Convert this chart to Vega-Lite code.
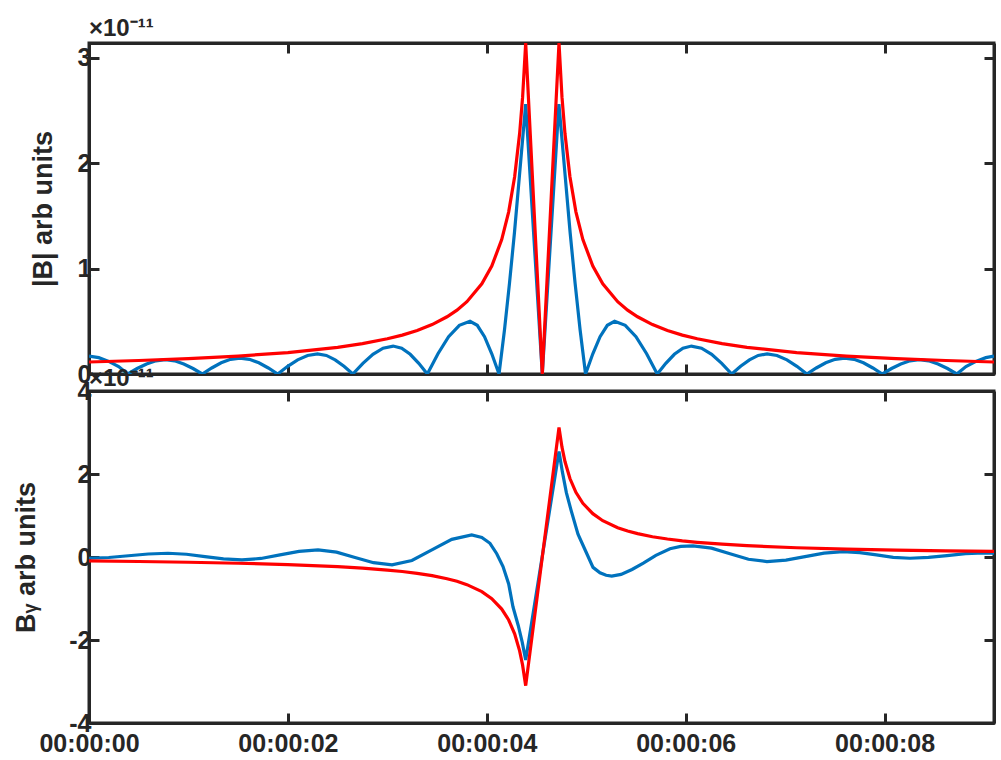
{
  "$schema": "https://vega.github.io/schema/vega-lite/v6.json",
  "padding": {"left": 11, "top": 15, "right": 4, "bottom": 5},
  "background": "white",
  "datasets": {
    "top": [
      {"t":0,"v":0.17,"s":"blue"},{"t":0.098,"v":0.155,"s":"blue"},{"t":0.198,"v":0.12,"s":"blue"},{"t":0.298,"v":0.07,"s":"blue"},{"t":0.39,"v":0,"s":"blue"},
      {"t":0.484,"v":0.052,"s":"blue"},{"t":0.579,"v":0.095,"s":"blue"},{"t":0.673,"v":0.125,"s":"blue"},{"t":0.768,"v":0.135,"s":"blue"},{"t":0.861,"v":0.125,"s":"blue"},{"t":0.953,"v":0.095,"s":"blue"},{"t":1.046,"v":0.052,"s":"blue"},{"t":1.139,"v":0,"s":"blue"},
      {"t":1.234,"v":0.057,"s":"blue"},{"t":1.329,"v":0.106,"s":"blue"},{"t":1.423,"v":0.139,"s":"blue"},{"t":1.518,"v":0.15,"s":"blue"},{"t":1.613,"v":0.139,"s":"blue"},{"t":1.708,"v":0.106,"s":"blue"},{"t":1.803,"v":0.057,"s":"blue"},{"t":1.898,"v":0,"s":"blue"},
      {"t":1.998,"v":0.073,"s":"blue"},{"t":2.098,"v":0.134,"s":"blue"},{"t":2.198,"v":0.176,"s":"blue"},{"t":2.298,"v":0.19,"s":"blue"},{"t":2.387,"v":0.176,"s":"blue"},{"t":2.475,"v":0.134,"s":"blue"},{"t":2.564,"v":0.073,"s":"blue"},{"t":2.653,"v":0,"s":"blue"},
      {"t":2.754,"v":0.101,"s":"blue"},{"t":2.855,"v":0.187,"s":"blue"},{"t":2.957,"v":0.245,"s":"blue"},{"t":3.058,"v":0.265,"s":"blue"},{"t":3.144,"v":0.245,"s":"blue"},{"t":3.23,"v":0.187,"s":"blue"},{"t":3.316,"v":0.101,"s":"blue"},{"t":3.402,"v":0,"s":"blue"},
      {"t":3.509,"v":0.192,"s":"blue"},{"t":3.616,"v":0.354,"s":"blue"},{"t":3.724,"v":0.462,"s":"blue"},{"t":3.831,"v":0.5,"s":"blue"},{"t":3.904,"v":0.462,"s":"blue"},{"t":3.977,"v":0.354,"s":"blue"},{"t":4.05,"v":0.192,"s":"blue"},{"t":4.123,"v":0,"s":"blue"},
      {"t":4.178,"v":0.42,"s":"blue"},{"t":4.228,"v":0.86,"s":"blue"},{"t":4.278,"v":1.34,"s":"blue"},{"t":4.328,"v":1.88,"s":"blue"},{"t":4.391,"v":2.56,"s":"blue"},{"t":4.558,"v":0,"s":"blue"},
      {"t":4.725,"v":2.56,"s":"blue"},{"t":4.788,"v":1.88,"s":"blue"},{"t":4.838,"v":1.34,"s":"blue"},{"t":4.888,"v":0.86,"s":"blue"},{"t":4.938,"v":0.42,"s":"blue"},{"t":4.993,"v":0,"s":"blue"},
      {"t":5.066,"v":0.192,"s":"blue"},{"t":5.139,"v":0.354,"s":"blue"},{"t":5.212,"v":0.462,"s":"blue"},{"t":5.285,"v":0.5,"s":"blue"},{"t":5.392,"v":0.462,"s":"blue"},{"t":5.5,"v":0.354,"s":"blue"},{"t":5.607,"v":0.192,"s":"blue"},{"t":5.714,"v":0,"s":"blue"},
      {"t":5.8,"v":0.101,"s":"blue"},{"t":5.886,"v":0.187,"s":"blue"},{"t":5.972,"v":0.245,"s":"blue"},{"t":6.058,"v":0.265,"s":"blue"},{"t":6.159,"v":0.245,"s":"blue"},{"t":6.261,"v":0.187,"s":"blue"},{"t":6.362,"v":0.101,"s":"blue"},{"t":6.463,"v":0,"s":"blue"},
      {"t":6.552,"v":0.073,"s":"blue"},{"t":6.641,"v":0.134,"s":"blue"},{"t":6.729,"v":0.176,"s":"blue"},{"t":6.818,"v":0.19,"s":"blue"},{"t":6.918,"v":0.176,"s":"blue"},{"t":7.018,"v":0.134,"s":"blue"},{"t":7.118,"v":0.073,"s":"blue"},{"t":7.218,"v":0,"s":"blue"},
      {"t":7.313,"v":0.057,"s":"blue"},{"t":7.408,"v":0.106,"s":"blue"},{"t":7.503,"v":0.139,"s":"blue"},{"t":7.598,"v":0.15,"s":"blue"},{"t":7.693,"v":0.139,"s":"blue"},{"t":7.787,"v":0.106,"s":"blue"},{"t":7.882,"v":0.057,"s":"blue"},{"t":7.977,"v":0,"s":"blue"},
      {"t":8.07,"v":0.052,"s":"blue"},{"t":8.163,"v":0.095,"s":"blue"},{"t":8.255,"v":0.125,"s":"blue"},{"t":8.348,"v":0.135,"s":"blue"},{"t":8.443,"v":0.125,"s":"blue"},{"t":8.537,"v":0.095,"s":"blue"},{"t":8.632,"v":0.052,"s":"blue"},{"t":8.726,"v":0,"s":"blue"},
      {"t":8.818,"v":0.07,"s":"blue"},{"t":8.918,"v":0.12,"s":"blue"},{"t":9.018,"v":0.155,"s":"blue"},{"t":9.1,"v":0.17,"s":"blue"},
      {"t":0,"v":0.114,"s":"red"},{"t":0.5,"v":0.128,"s":"red"},{"t":1,"v":0.146,"s":"red"},{"t":1.5,"v":0.17,"s":"red"},{"t":2,"v":0.203,"s":"red"},{"t":2.5,"v":0.253,"s":"red"},{"t":2.75,"v":0.288,"s":"red"},{"t":3,"v":0.334,"s":"red"},{"t":3.15,"v":0.369,"s":"red"},{"t":3.3,"v":0.413,"s":"red"},{"t":3.45,"v":0.469,"s":"red"},{"t":3.6,"v":0.543,"s":"red"},{"t":3.7,"v":0.606,"s":"red"},{"t":3.8,"v":0.686,"s":"red"},{"t":3.95,"v":0.855,"s":"red"},{"t":4.05,"v":1.024,"s":"red"},{"t":4.15,"v":1.275,"s":"red"},{"t":4.22,"v":1.538,"s":"red"},{"t":4.28,"v":1.871,"s":"red"},{"t":4.33,"v":2.281,"s":"red"},{"t":4.36,"v":2.626,"s":"red"},{"t":4.391,"v":3.14,"s":"red"},
      {"t":4.558,"v":0,"s":"red"},
      {"t":4.726,"v":3.14,"s":"red"},{"t":4.756,"v":2.626,"s":"red"},{"t":4.786,"v":2.281,"s":"red"},{"t":4.836,"v":1.871,"s":"red"},{"t":4.896,"v":1.538,"s":"red"},{"t":4.966,"v":1.275,"s":"red"},{"t":5.066,"v":1.024,"s":"red"},{"t":5.166,"v":0.855,"s":"red"},{"t":5.316,"v":0.686,"s":"red"},{"t":5.416,"v":0.606,"s":"red"},{"t":5.516,"v":0.543,"s":"red"},{"t":5.666,"v":0.469,"s":"red"},{"t":5.816,"v":0.413,"s":"red"},{"t":5.966,"v":0.369,"s":"red"},{"t":6.116,"v":0.334,"s":"red"},{"t":6.366,"v":0.288,"s":"red"},{"t":6.616,"v":0.253,"s":"red"},{"t":7.116,"v":0.203,"s":"red"},{"t":7.616,"v":0.17,"s":"red"},{"t":8.116,"v":0.146,"s":"red"},{"t":8.616,"v":0.128,"s":"red"},{"t":9.1,"v":0.114,"s":"red"}
    ],
    "bottom": [
      {"t":0,"v":-0.03,"s":"blue"},{"t":0.1985,"v":-0.0125,"s":"blue"},{"t":0.397,"v":0.03,"s":"blue"},{"t":0.5955,"v":0.0725,"s":"blue"},{"t":0.794,"v":0.09,"s":"blue"},
      {"t":0.98,"v":0.0666,"s":"blue"},{"t":1.166,"v":0.01,"s":"blue"},{"t":1.352,"v":-0.0466,"s":"blue"},{"t":1.538,"v":-0.07,"s":"blue"},
      {"t":1.729,"v":-0.035,"s":"blue"},{"t":1.9205,"v":0.05,"s":"blue"},{"t":2.112,"v":0.135,"s":"blue"},{"t":2.303,"v":0.17,"s":"blue"},
      {"t":2.489,"v":0.117,"s":"blue"},{"t":2.675,"v":-0.01,"s":"blue"},{"t":2.861,"v":-0.137,"s":"blue"},{"t":3.047,"v":-0.19,"s":"blue"},
      {"t":3.247,"v":-0.085,"s":"blue"},{"t":3.4475,"v":0.17,"s":"blue"},{"t":3.648,"v":0.425,"s":"blue"},{"t":3.848,"v":0.53,"s":"blue"},
      {"t":3.95,"v":0.47,"s":"blue"},{"t":4.032,"v":0.33,"s":"blue"},{"t":4.1,"v":0.08,"s":"blue"},{"t":4.163,"v":-0.23,"s":"blue"},{"t":4.22,"v":-0.65,"s":"blue"},{"t":4.263,"v":-1.2,"s":"blue"},{"t":4.316,"v":-1.65,"s":"blue"},{"t":4.356,"v":-2.05,"s":"blue"},{"t":4.391,"v":-2.48,"s":"blue"},
      {"t":4.726,"v":2.54,"s":"blue"},{"t":4.76,"v":2.05,"s":"blue"},{"t":4.8,"v":1.55,"s":"blue"},{"t":4.847,"v":1.13,"s":"blue"},{"t":4.917,"v":0.55,"s":"blue"},{"t":4.998,"v":0.12,"s":"blue"},{"t":5.068,"v":-0.25,"s":"blue"},{"t":5.138,"v":-0.38,"s":"blue"},{"t":5.2,"v":-0.44,"s":"blue"},{"t":5.256,"v":-0.46,"s":"blue"},
      {"t":5.35,"v":-0.42,"s":"blue"},{"t":5.46,"v":-0.3,"s":"blue"},{"t":5.574,"v":-0.15,"s":"blue"},{"t":5.7,"v":0.04,"s":"blue"},{"t":5.842,"v":0.2,"s":"blue"},{"t":5.95,"v":0.255,"s":"blue"},{"t":6.074,"v":0.27,"s":"blue"},
      {"t":6.26,"v":0.2145,"s":"blue"},{"t":6.4455,"v":0.08,"s":"blue"},{"t":6.631,"v":-0.0545,"s":"blue"},{"t":6.817,"v":-0.11,"s":"blue"},
      {"t":7.008,"v":-0.075,"s":"blue"},{"t":7.1995,"v":0.01,"s":"blue"},{"t":7.391,"v":0.095,"s":"blue"},{"t":7.582,"v":0.13,"s":"blue"},
      {"t":7.75,"v":0.107,"s":"blue"},{"t":7.9185,"v":0.05,"s":"blue"},{"t":8.087,"v":-0.007,"s":"blue"},{"t":8.255,"v":-0.03,"s":"blue"},
      {"t":8.441,"v":-0.011,"s":"blue"},{"t":8.6275,"v":0.035,"s":"blue"},{"t":8.814,"v":0.081,"s":"blue"},{"t":9.0,"v":0.1,"s":"blue"},{"t":9.1,"v":0.095,"s":"blue"},
      {"t":0,"v":-0.094,"s":"red"},{"t":0.5,"v":-0.108,"s":"red"},{"t":1,"v":-0.126,"s":"red"},{"t":1.5,"v":-0.15,"s":"red"},{"t":2,"v":-0.183,"s":"red"},{"t":2.5,"v":-0.233,"s":"red"},{"t":2.75,"v":-0.268,"s":"red"},{"t":3,"v":-0.314,"s":"red"},{"t":3.15,"v":-0.349,"s":"red"},{"t":3.3,"v":-0.393,"s":"red"},{"t":3.45,"v":-0.449,"s":"red"},{"t":3.6,"v":-0.523,"s":"red"},{"t":3.7,"v":-0.586,"s":"red"},{"t":3.8,"v":-0.666,"s":"red"},{"t":3.95,"v":-0.835,"s":"red"},{"t":4.05,"v":-1.004,"s":"red"},{"t":4.15,"v":-1.255,"s":"red"},{"t":4.22,"v":-1.518,"s":"red"},{"t":4.28,"v":-1.851,"s":"red"},{"t":4.33,"v":-2.261,"s":"red"},{"t":4.36,"v":-2.606,"s":"red"},{"t":4.391,"v":-3.1,"s":"red"},
      {"t":4.726,"v":3.12,"s":"red"},{"t":4.756,"v":2.646,"s":"red"},{"t":4.786,"v":2.301,"s":"red"},{"t":4.836,"v":1.891,"s":"red"},{"t":4.896,"v":1.558,"s":"red"},{"t":4.966,"v":1.295,"s":"red"},{"t":5.066,"v":1.044,"s":"red"},{"t":5.166,"v":0.875,"s":"red"},{"t":5.316,"v":0.706,"s":"red"},{"t":5.416,"v":0.626,"s":"red"},{"t":5.516,"v":0.563,"s":"red"},{"t":5.666,"v":0.489,"s":"red"},{"t":5.816,"v":0.433,"s":"red"},{"t":5.966,"v":0.389,"s":"red"},{"t":6.116,"v":0.354,"s":"red"},{"t":6.366,"v":0.308,"s":"red"},{"t":6.616,"v":0.273,"s":"red"},{"t":7.116,"v":0.223,"s":"red"},{"t":7.616,"v":0.19,"s":"red"},{"t":8.116,"v":0.166,"s":"red"},{"t":8.616,"v":0.148,"s":"red"},{"t":9.1,"v":0.134,"s":"red"}
    ]
  },
  "vconcat": [
    {
      "width": 905,
      "height": 331,
      "title": {"text": "×10⁻¹¹", "anchor": "start", "frame": "group", "fontSize": 24, "fontWeight": "bold", "font": "Liberation Sans", "color": "#262626", "offset": 1},
      "data": {"name": "top"},
      "layer": [
        {
          "transform": [{"filter": "datum.s === 'blue'"}],
          "mark": {"type": "line", "color": "#0072BD", "strokeWidth": 3.2, "clip": true},
          "encoding": {
            "x": {"field": "t", "type": "quantitative", "scale": {"domain": [0, 9.1], "nice": false, "zero": false},
                  "axis": {"orient": "bottom", "values": [0, 2, 4, 6, 8], "labels": false, "title": null}},
            "y": {"field": "v", "type": "quantitative", "scale": {"domain": [0, 3.14], "nice": false},
                  "axis": {"orient": "left", "values": [0, 1, 2, 3], "title": "|B| arb units", "titlePadding": 20}}
          }
        },
        {
          "transform": [{"filter": "datum.s === 'red'"}],
          "mark": {"type": "line", "color": "#FF0000", "strokeWidth": 3.2, "clip": true},
          "encoding": {
            "x": {"field": "t", "type": "quantitative", "scale": {"domain": [0, 9.1], "nice": false, "zero": false},
                  "axis": {"orient": "top", "values": [0, 2, 4, 6, 8], "labels": false, "title": null}},
            "y": {"field": "v", "type": "quantitative", "scale": {"domain": [0, 3.14], "nice": false},
                  "axis": {"orient": "right", "values": [0, 1, 2, 3], "labels": false, "title": null}}
          }
        }
      ],
      "resolve": {"axis": {"x": "independent", "y": "independent"}}
    },
    {
      "width": 905,
      "height": 332,
      "title": {"text": "×10⁻¹¹", "anchor": "start", "frame": "group", "fontSize": 24, "fontWeight": "bold", "font": "Liberation Sans", "color": "#262626", "offset": -12},
      "data": {"name": "bottom"},
      "layer": [
        {
          "transform": [{"filter": "datum.s === 'blue'"}],
          "mark": {"type": "line", "color": "#0072BD", "strokeWidth": 3.2, "clip": true},
          "encoding": {
            "x": {"field": "t", "type": "quantitative", "scale": {"domain": [0, 9.1], "nice": false, "zero": false},
                  "axis": {"orient": "bottom", "values": [0, 2, 4, 6, 8], "title": null, "labelPadding": 18, "labelExpr": "'00:00:0' + datum.value"}},
            "y": {"field": "v", "type": "quantitative", "scale": {"domain": [-4, 4], "nice": false},
                  "axis": {"orient": "left", "values": [-4, -2, 0, 2, 4], "title": "Bᵧ arb units", "titlePadding": 28, "labelExpr": "datum.value < 0 ? '-' + abs(datum.value) : '' + datum.value"}}
          }
        },
        {
          "transform": [{"filter": "datum.s === 'red'"}],
          "mark": {"type": "line", "color": "#FF0000", "strokeWidth": 3.2, "clip": true},
          "encoding": {
            "x": {"field": "t", "type": "quantitative", "scale": {"domain": [0, 9.1], "nice": false, "zero": false},
                  "axis": {"orient": "top", "values": [0, 2, 4, 6, 8], "labels": false, "title": null}},
            "y": {"field": "v", "type": "quantitative", "scale": {"domain": [-4, 4], "nice": false},
                  "axis": {"orient": "right", "values": [-4, -2, 0, 2, 4], "labels": false, "title": null}}
          }
        }
      ],
      "resolve": {"axis": {"x": "independent", "y": "independent"}}
    }
  ],
  "spacing": 17,
  "bounds": "flush",
  "config": {
    "view": {"stroke": "#262626", "strokeWidth": 3},
    "axis": {
      "grid": false,
      "domainColor": "#262626",
      "domainWidth": 3,
      "tickColor": "#262626",
      "tickWidth": 3,
      "tickSize": -10,
      "labelPadding": 8,
      "labelFlush": false,
      "labelOverlap": false,
      "labelFont": "Liberation Sans",
      "labelFontWeight": "bold",
      "labelFontSize": 25,
      "labelColor": "#262626",
      "titleFont": "Liberation Sans",
      "titleFontWeight": "bold",
      "titleFontSize": 27,
      "titleColor": "#262626"
    }
  }
}
